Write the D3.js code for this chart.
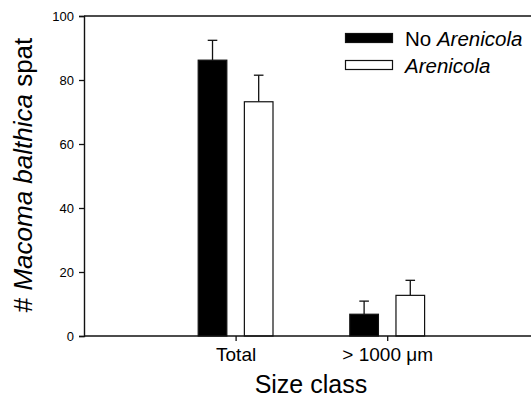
<!DOCTYPE html>
<html>
<head>
<meta charset="utf-8">
<script src="https://d3js.org/d3.v7.min.js"></script>
<style>
  html, body { margin: 0; padding: 0; background: #fff; }
  svg { display: block; font-family: "Liberation Sans", Arial, Helvetica, sans-serif; }
</style>
</head>
<body>
<svg id="chart" width="531" height="398"></svg>
<script>
// Mean number of Macoma balthica spat per size class, with and without Arenicola
const categories = ["Total", "> 1000 \u03bcm"];
const seriesNames = ["No Arenicola", "Arenicola"];
const noArenicola = [86.2, 6.8];
const noArenicolaSE = [6.2, 4.1];
const arenicola = [73.2, 12.7];
const arenicolaSE = [8.3, 4.7];
const yTicks = [0, 20, 40, 60, 80, 100];

const svg = d3.select("#chart");
const W = 531;
const ink = "#111";

const y = d3.scaleLinear().domain([0, 100]).range([336, 16]);
const x = d3.scalePoint().domain(categories).range([84, 538.8]).padding(1);
const xSub = d3.scaleBand().domain(seriesNames).range([-37.4, 37.4]).paddingInner(0.38);

const data = [];
categories.forEach((c, i) => {
  data.push({ cat: c, series: seriesNames[0], value: noArenicola[i], se: noArenicolaSE[i] });
  data.push({ cat: c, series: seriesNames[1], value: arenicola[i], se: arenicolaSE[i] });
});
const fillOf = s => s === seriesNames[0] ? "#000" : "#fff";

// frame: top border
svg.append("line")
  .attr("x1", 84).attr("x2", W).attr("y1", y(100)).attr("y2", y(100))
  .attr("stroke", ink).attr("stroke-width", 1.4);

// error bars (drawn first so bars cover the lower half)
const eb = svg.append("g");
data.forEach(d => {
  const cx = x(d.cat) + xSub(d.series) + xSub.bandwidth() / 2;
  eb.append("line").attr("x1", cx).attr("x2", cx)
    .attr("y1", y(d.value)).attr("y2", y(d.value + d.se))
    .attr("stroke", ink).attr("stroke-width", 1.3);
  eb.append("line").attr("x1", cx - 4.8).attr("x2", cx + 4.8)
    .attr("y1", y(d.value + d.se)).attr("y2", y(d.value + d.se))
    .attr("stroke", ink).attr("stroke-width", 1.3);
});

// bars
svg.append("g").selectAll("rect").data(data).join("rect")
  .attr("x", d => x(d.cat) + xSub(d.series))
  .attr("width", xSub.bandwidth())
  .attr("y", d => y(d.value))
  .attr("height", d => y(0) - y(d.value))
  .attr("fill", d => fillOf(d.series))
  .attr("stroke", ink).attr("stroke-width", 1.2);

// y axis
const yAxis = svg.append("g").attr("transform", "translate(84,0)")
  .call(d3.axisLeft(y).tickValues(yTicks).tickSize(5).tickPadding(5));
yAxis.select(".domain").attr("stroke", ink).attr("stroke-width", 1.4);
yAxis.selectAll(".tick line").attr("stroke", ink).attr("stroke-width", 1.3);
yAxis.selectAll(".tick text").attr("font-size", 13).attr("fill", "#000")
  .attr("font-family", "Liberation Sans, Arial, sans-serif");

// x axis
const xAxis = svg.append("g").attr("transform", `translate(0,${y(0)})`)
  .call(d3.axisBottom(x).tickSize(5).tickPadding(7));
xAxis.select(".domain").remove();
xAxis.append("line").attr("x1", 84).attr("x2", W).attr("y1", 0).attr("y2", 0)
  .attr("stroke", ink).attr("stroke-width", 1.4);
xAxis.selectAll(".tick line").attr("stroke", ink).attr("stroke-width", 1.3);
xAxis.selectAll(".tick text").attr("font-size", 19).attr("fill", "#000")
  .attr("font-family", "Liberation Sans, Arial, sans-serif");

// axis titles
svg.append("text")
  .attr("x", (84 + 538.8) / 2 - 0.5).attr("y", 393)
  .attr("text-anchor", "middle").attr("font-size", 25).attr("fill", "#000")
  .text("Size class");

const yt = svg.append("text")
  .attr("transform", "translate(32,175) rotate(-90)")
  .attr("text-anchor", "middle").attr("font-size", 26).attr("fill", "#000");
yt.append("tspan").text("# ");
yt.append("tspan").attr("font-style", "italic").text("Macoma balthica");
yt.append("tspan").text(" spat");

// legend
const legend = svg.append("g");
const legendRows = [
  { name: seriesNames[0], prefix: "No ", italic: "Arenicola", y: 33.5 },
  { name: seriesNames[1], prefix: "", italic: "Arenicola", y: 60.5 }
];
legendRows.forEach(r => {
  legend.append("rect")
    .attr("x", 345.5).attr("y", r.y).attr("width", 47).attr("height", 9)
    .attr("fill", fillOf(r.name)).attr("stroke", ink).attr("stroke-width", 1.2);
  const t = legend.append("text")
    .attr("x", 405).attr("y", r.y + 12.5)
    .attr("font-size", 20.5).attr("fill", "#000");
  if (r.prefix) t.append("tspan").text(r.prefix);
  t.append("tspan").attr("font-style", "italic").text(r.italic);
});
</script>
</body>
</html>
